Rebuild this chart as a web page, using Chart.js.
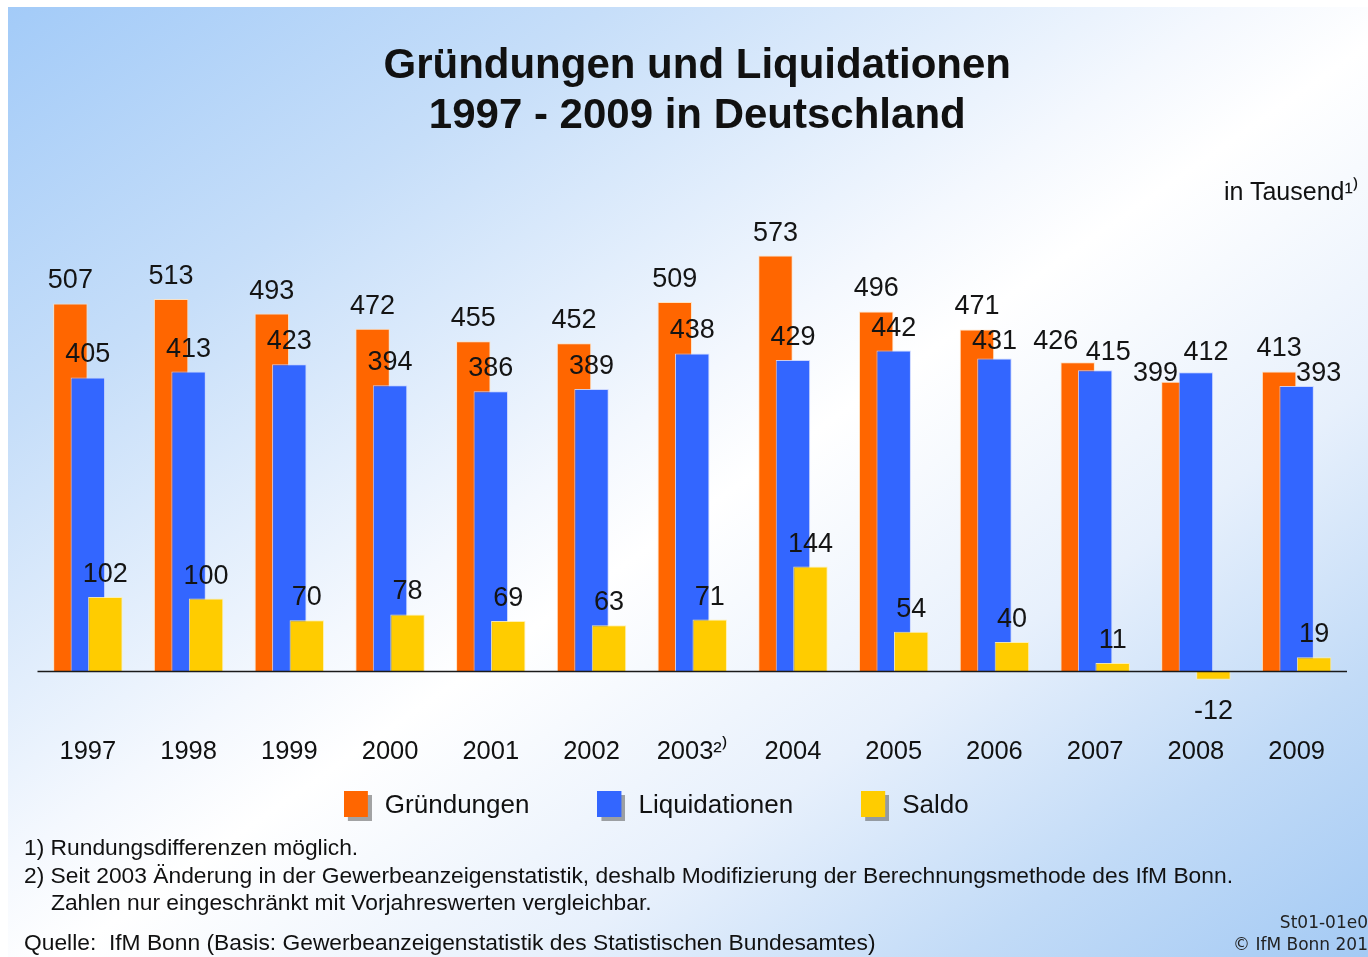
<!DOCTYPE html>
<html lang="de">
<head>
<meta charset="utf-8">
<title>Gründungen und Liquidationen 1997 - 2009 in Deutschland</title>
<script src="https://cdn.jsdelivr.net/npm/chart.js@4.4.1/dist/chart.umd.min.js"></script>
<style>
  html, body { margin: 0; padding: 0; background: #fff; }
  body { width: 1368px; height: 957px; position: relative; overflow: hidden; font-family: "Liberation Sans", Arial, sans-serif; color: #111; }
  #bg {
    position: absolute; left: 8px; top: 7px; right: 0; bottom: 0;
    background: linear-gradient(to bottom right, #a3cbf8 0%, #c6def9 22%, #f4f8fe 45%, #ffffff 52%, #e7f0fc 70%, #c2dbf7 85%, #a4caf4 100%);
  }
  #chart { position: absolute; left: 0; top: 0; }
  .txt { position: absolute; white-space: pre; }
  #unit { left: 1224px; top: 176px; font-size: 25px; line-height: 30px; }
  #notes { left: 24px; top: 834px; font-size: 22.8px; line-height: 27.5px; }
  #notes .indent { padding-left: 27px; }
  #source { left: 24px; top: 929px; font-size: 22.8px; line-height: 27.5px; }
  #corner { right: 0; top: 911px; font-family: "DejaVu Sans", Verdana, sans-serif; font-size: 17px; line-height: 22px; text-align: right; color: #222; }
</style>
</head>
<body>
<div id="bg"></div>
<canvas id="chart" width="1368" height="957"></canvas>
<div class="txt" id="unit">in Tausend¹⁾</div>
<div class="txt" id="notes"><div>1) Rundungsdifferenzen möglich.</div><div>2) Seit 2003 Änderung in der Gewerbeanzeigenstatistik, deshalb Modifizierung der Berechnungsmethode des IfM Bonn.</div><div class="indent">Zahlen nur eingeschränkt mit Vorjahreswerten vergleichbar.</div></div>
<div class="txt" id="source">Quelle:  IfM Bonn (Basis: Gewerbeanzeigenstatistik des Statistischen Bundesamtes)</div>
<div class="txt" id="corner">St01-01e0
© IfM Bonn 201</div>
<script>
const years = ["1997", "1998", "1999", "2000", "2001", "2002", "2003²⁾", "2004", "2005", "2006", "2007", "2008", "2009"];
const gruendungen = [507, 513, 493, 472, 455, 452, 509, 573, 496, 471, 426, 399, 413];
const liquidationen = [405, 413, 423, 394, 386, 389, 438, 429, 442, 431, 415, 412, 393];
const saldo = [102, 100, 70, 78, 69, 63, 71, 144, 54, 40, 11, -12, 19];

const FONT = "'Liberation Sans', Arial, sans-serif";
const colors = ["#ff6600", "#3366ff", "#ffcc00"];
const edges = ["rgba(255,225,190,0.9)", "rgba(200,212,255,0.9)", "rgba(255,240,170,0.9)"];

// hand shifts for labels that collide ("dataset-index": [dx, dy])
const labelNudge = {
  "0-9": [0, -1], "1-9": [0, 5],
  "0-10": [-22, 2], "1-10": [13, 5],
  "0-11": [-23, 14], "1-11": [10, 3],
  "0-12": [0, -1], "1-12": [22, 10]
};

function makeSwatch(color) {
  const c = document.createElement("canvas");
  c.width = 28;
  c.height = 30;
  const g = c.getContext("2d");
  g.fillStyle = "rgba(90,90,90,0.55)";
  g.fillRect(4, 4, 24, 26);
  g.fillStyle = color;
  g.fillRect(0, 0, 24, 26);
  return c;
}

// orange behind, blue over it, yellow on top (Chart.js draws dataset 0 last by default)
const barLayers = {
  id: "barLayers",
  afterLayout(chart) {
    const lg = chart.legend;
    lg.left -= 36;
    lg.right -= 36;
    lg.top -= 45;
    lg.bottom -= 45;
    chart.titleBlock.left += 5;
    chart.titleBlock.right += 5;
  },
  beforeDatasetsDraw(chart) {
    const ctx = chart.ctx;
    chart.data.datasets.forEach((ds, i) => {
      chart.getDatasetMeta(i).controller.draw();
    });
    const y0 = Math.round(chart.scales.y.getPixelForValue(0)) + 0.5;
    ctx.save();
    ctx.strokeStyle = "#1a1a1a";
    ctx.lineWidth = 1.5;
    ctx.beginPath();
    ctx.moveTo(chart.chartArea.left, y0);
    ctx.lineTo(chart.chartArea.right, y0);
    ctx.stroke();
    ctx.restore();
    return false;
  },
  afterDraw(chart) {
    const ctx = chart.ctx;
    ctx.save();
    ctx.font = "27px " + FONT;
    ctx.fillStyle = "#141414";
    ctx.textAlign = "center";
    ctx.textBaseline = "alphabetic";
    chart.data.datasets.forEach((ds, i) => {
      chart.getDatasetMeta(i).data.forEach((bar, j) => {
        const v = ds.data[j];
        const n = labelNudge[i + "-" + j] || [0, 0];
        const y = v >= 0 ? bar.y - 15 : bar.y + 39;
        ctx.fillText(String(v), bar.x + n[0], y + n[1]);
      });
    });
    ctx.restore();
  }
};

new Chart(document.getElementById("chart"), {
  type: "bar",
  data: {
    labels: years,
    datasets: [
      { label: "Gründungen", data: gruendungen, backgroundColor: colors[0], borderColor: edges[0], borderWidth: 1 },
      { label: "Liquidationen", data: liquidationen, backgroundColor: colors[1], borderColor: edges[1], borderWidth: 1 },
      { label: "Saldo", data: saldo, backgroundColor: colors[2], borderColor: edges[2], borderWidth: 1 }
    ]
  },
  options: {
    responsive: false,
    animation: false,
    categoryPercentage: 0.521,
    barPercentage: 1.97,
    layout: { padding: { left: 37.5, right: 21, top: 31, bottom: 83 } },
    scales: {
      x: {
        grid: { display: false, drawTicks: false },
        border: { display: false },
        ticks: { font: { size: 25.5, family: FONT }, color: "#111", padding: 37, maxRotation: 0, autoSkip: false },
        afterFit(scale) { scale.height = 70; }
      },
      y: { display: false, min: -40, max: 600 }
    },
    plugins: {
      title: {
        display: true,
        text: ["Gründungen und Liquidationen", "1997 - 2009 in Deutschland"],
        font: { size: 42, weight: "bold", family: FONT, lineHeight: 50 / 42 },
        color: "#111",
        padding: { top: 10, bottom: 95 }
      },
      legend: {
        position: "bottom",
        labels: {
          usePointStyle: true,
          pointStyleWidth: 28,
          boxHeight: 26,
          padding: 68,
          font: { size: 26, family: FONT },
          color: "#111",
          generateLabels(chart) {
            const items = Chart.defaults.plugins.legend.labels.generateLabels(chart);
            items.forEach((it, i) => { it.pointStyle = makeSwatch(colors[i]); });
            return items;
          }
        }
      },
      tooltip: { enabled: false }
    }
  },
  plugins: [barLayers]
});
</script>
</body>
</html>
